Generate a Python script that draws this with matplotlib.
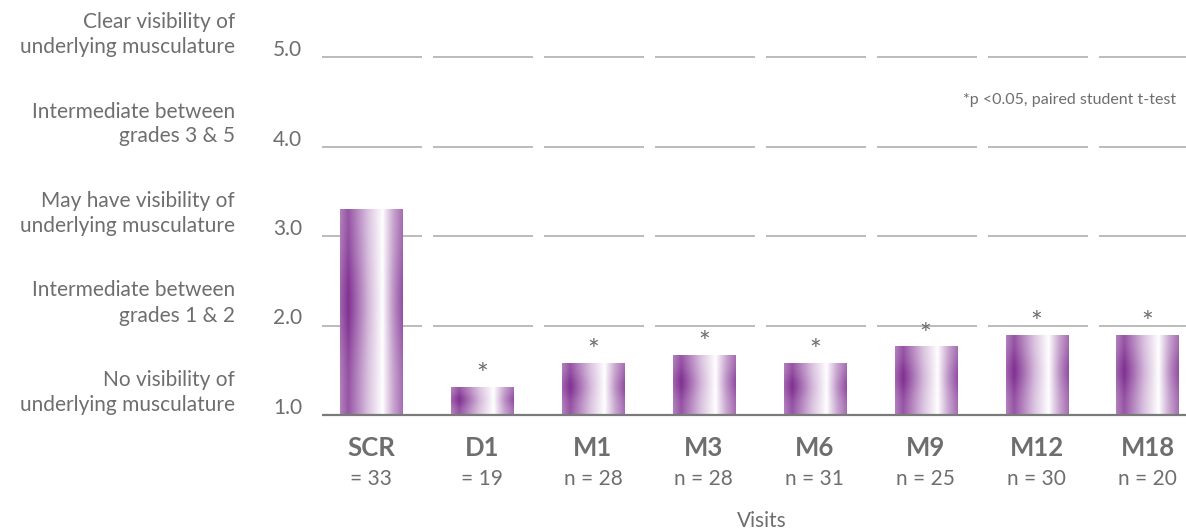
import numpy as np
import matplotlib
matplotlib.use("Agg")
import matplotlib.pyplot as plt

plt.rcParams['font.family'] = ['Lato', 'DejaVu Sans']

categories = ["SCR", "D1", "M1", "M3", "M6", "M9", "M12", "M18"]
n_labels = ["= 33", "= 19", "n = 28", "n = 28", "n = 31", "n = 25", "n = 30", "n = 20"]
values = [3.30, 1.31, 1.58, 1.67, 1.58, 1.76, 1.89, 1.89]
significant = [False, True, True, True, True, True, True, True]
yticks = [1.0, 2.0, 3.0, 4.0, 5.0]
ytick_labels = ["1.0", "2.0", "3.0", "4.0", "5.0"]
grade_line1 = ["No visibility of", "Intermediate between", "May have visibility of",
               "Intermediate between", "Clear visibility of"]
grade_line2 = ["underlying musculature", "grades 1 & 2", "underlying musculature",
               "grades 3 & 5", "underlying musculature"]
footnote = "*p <0.05, paired student t-test"
xlabel = "Visits"

W, H = 1186, 531
fig = plt.figure(figsize=(W / 100, H / 100), dpi=100)
ax_left, ax_right = 322 / W, 1.0
ax_bottom, ax_top = 1 - 415 / H, 1 - 57 / H
ax = fig.add_axes([ax_left, ax_bottom, ax_right - ax_left, ax_top - ax_bottom])
ax.axis('off')

gray = "#6e6e6e"
grid_c = "#A8A8A8"
purple = np.array([122, 38, 140]) / 255.0

# segmented gridlines
for yv in yticks[1:]:
    for i in range(len(categories)):
        ax.plot([i - 0.44, i + 0.46], [yv, yv], color=grid_c, lw=1.1,
                zorder=1, clip_on=False, solid_capstyle='butt')
# baseline
ax.plot([-0.442, 7.347], [1.0, 1.0], color="#7a7a7a", lw=1.6, zorder=5,
        clip_on=False, solid_capstyle='butt')

# gradient for bars
nx, ny = 200, 100
xs = np.linspace(0, 1, nx)
stops = [0.0, 0.13, 0.45, 0.68, 0.71, 0.85, 1.0]
alph = [0.70, 0.95, 0.33, 0.0, 0.10, 0.50, 0.82]
ax_prof = np.interp(xs, stops, alph)
ys = np.linspace(0, 1, ny)
vmod = 0.82 + 0.18 * np.exp(-((ys - 0.55) / 0.25) ** 2)
A = np.clip(ax_prof[None, :] * vmod[:, None], 0, 1)
img = np.ones((ny, nx, 4))
for c in range(3):
    img[:, :, c] = 1 - A * (1 - purple[c])
img[:, :, 3] = 1.0

bw = 0.56
for i, v in enumerate(values):
    ax.imshow(img, extent=(i - bw / 2, i + bw / 2, 1.0, v), aspect='auto',
              origin='lower', zorder=3, interpolation='bilinear')
    if significant[i]:
        ax.annotate("*", xy=(i, v), xytext=(0, 11), textcoords='offset pixels',
                    ha='center', va='center', fontsize=20, color=gray, zorder=6)

ax.set_xlim(-0.442, 7.347)
ax.set_ylim(1.0, 5.0)

fs = 15
# y tick labels and grade descriptions
for yv, tl, g1, g2 in zip(yticks, ytick_labels, grade_line1, grade_line2):
    ax.annotate(tl, xy=(0, yv), xycoords=('axes fraction', 'data'),
                xytext=(-20, 7), textcoords='offset pixels',
                ha='right', va='center', fontsize=fs, color=gray)
    ax.annotate(g2, xy=(0, yv), xycoords=('axes fraction', 'data'),
                xytext=(-87, 10), textcoords='offset pixels',
                ha='right', va='center', fontsize=fs, color=gray)
    ax.annotate(g1, xy=(0, yv), xycoords=('axes fraction', 'data'),
                xytext=(-87, 35), textcoords='offset pixels',
                ha='right', va='center', fontsize=fs, color=gray)

# category labels
for i, (cat, nl) in enumerate(zip(categories, n_labels)):
    ax.annotate(cat, xy=(i, 1.0), xytext=(0, -33), textcoords='offset pixels',
                ha='center', va='center', fontsize=18.5, fontweight='bold', color=gray)
    ax.annotate(nl, xy=(i, 1.0), xytext=(0, -64), textcoords='offset pixels',
                ha='center', va='center', fontsize=fs, color=gray)

fig.text(762 / W, 1 - 521 / H, xlabel, ha='center', va='center', fontsize=fs, color=gray)
fig.text(1176 / W, 1 - 100 / H, footnote, ha='right', va='center', fontsize=11.5, color=gray)

fig.savefig("out.png", dpi=100)
